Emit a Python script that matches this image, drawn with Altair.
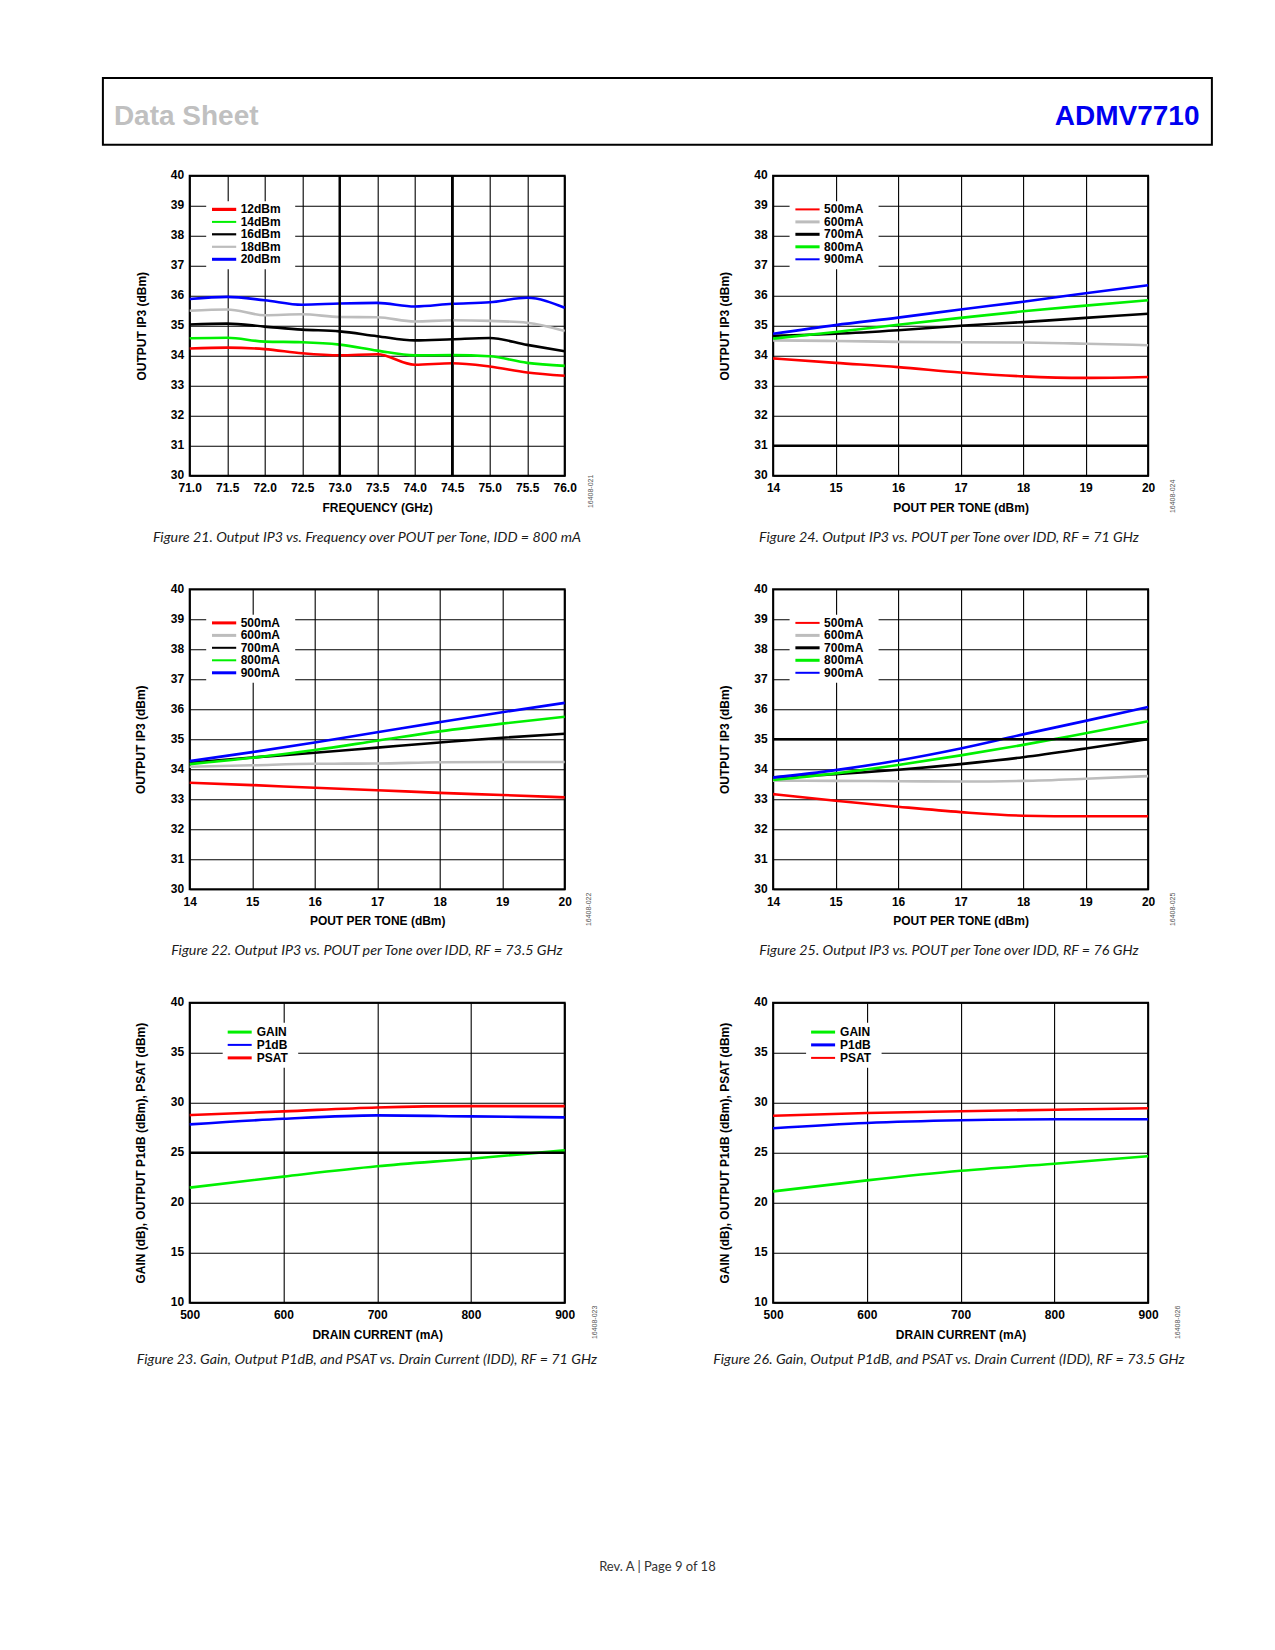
import altair as alt
import pandas as pd

# ---------------- data ----------------
# Figure 21: OIP3 vs frequency over POUT per tone
f21_x = [71.0, 71.5, 72.0, 72.5, 73.0, 73.5, 74.0, 74.5, 75.0, 75.5, 76.0]
f21_names = ["12dBm", "14dBm", "16dBm", "18dBm", "20dBm"]
f21_12 = [34.24, 34.27, 34.22, 34.08, 34.01, 34.05, 33.70, 33.75, 33.64, 33.44, 33.33]
f21_14 = [34.58, 34.60, 34.47, 34.45, 34.37, 34.17, 34.01, 34.02, 33.98, 33.76, 33.66]
f21_16 = [35.04, 35.07, 34.97, 34.87, 34.81, 34.65, 34.51, 34.55, 34.59, 34.36, 34.15]
f21_18 = [35.50, 35.54, 35.35, 35.38, 35.29, 35.28, 35.14, 35.18, 35.16, 35.10, 34.82]
f21_20 = [35.89, 35.96, 35.85, 35.70, 35.74, 35.76, 35.64, 35.73, 35.78, 35.93, 35.60]

# Figures 22, 24, 25: OIP3 vs POUT per tone over IDD
pout_x = [14, 15, 16, 17, 18, 19, 20]
idd_names = ["500mA", "600mA", "700mA", "800mA", "900mA"]
# RF = 71 GHz (Figure 24)
f24_500 = [33.91, 33.76, 33.62, 33.44, 33.31, 33.26, 33.29]
f24_600 = [34.51, 34.49, 34.46, 34.45, 34.44, 34.40, 34.35]
f24_700 = [34.66, 34.73, 34.85, 35.00, 35.12, 35.26, 35.40]
f24_800 = [34.57, 34.79, 35.03, 35.26, 35.48, 35.67, 35.85]
f24_900 = [34.73, 35.02, 35.27, 35.54, 35.80, 36.08, 36.35]
# RF = 73.5 GHz (Figure 22)
f22_500 = [33.55, 33.47, 33.38, 33.30, 33.21, 33.14, 33.06]
f22_600 = [34.08, 34.13, 34.18, 34.19, 34.23, 34.24, 34.24]
f22_700 = [34.22, 34.39, 34.55, 34.72, 34.89, 35.05, 35.18]
f22_800 = [34.17, 34.38, 34.64, 34.95, 35.26, 35.52, 35.75]
f22_900 = [34.27, 34.57, 34.89, 35.23, 35.57, 35.90, 36.21]
# RF = 76 GHz (Figure 25)
f25_500 = [33.17, 32.95, 32.75, 32.57, 32.45, 32.43, 32.43]
f25_600 = [33.62, 33.61, 33.60, 33.59, 33.61, 33.68, 33.77]
f25_700 = [33.73, 33.83, 33.98, 34.17, 34.40, 34.69, 35.00]
f25_800 = [33.64, 33.86, 34.14, 34.46, 34.81, 35.20, 35.60]
f25_900 = [33.72, 33.97, 34.29, 34.69, 35.16, 35.61, 36.07]

# Figures 23, 26: Gain, P1dB, PSAT vs drain current
idd_x = [500, 600, 700, 800, 900]
gain_names = ["GAIN", "P1dB", "PSAT"]
f23_gain = [21.51, 22.61, 23.64, 24.40, 25.23]
f23_p1db = [27.83, 28.39, 28.73, 28.63, 28.53]
f23_psat = [28.76, 29.13, 29.52, 29.66, 29.66]
f26_gain = [21.13, 22.23, 23.19, 23.89, 24.65]
f26_p1db = [27.44, 27.97, 28.24, 28.34, 28.34]
f26_psat = [28.70, 28.97, 29.14, 29.30, 29.44]

# tick labels
f21_ticks = [71.0, 71.5, 72.0, 72.5, 73.0, 73.5, 74.0, 74.5, 75.0, 75.5, 76.0]
pout_ticks = [14, 15, 16, 17, 18, 19, 20]
idd_ticks = [500, 600, 700, 800, 900]
ip3_ticks = [30, 31, 32, 33, 34, 35, 36, 37, 38, 39, 40]
gain_ticks = [10, 15, 20, 25, 30, 35, 40]

# ---------------- styling ----------------
RED, GREEN, BLACK, GRAY, BLUE = "#ff0000", "#00f000", "#000000", "#bdbdbd", "#0000ff"
AX_FONT = "Liberation Sans, Arial, Helvetica, sans-serif"
CAP_FONT = "Lato, Open Sans, sans-serif"
HEAD_FONT = "Liberation Sans, Arial, sans-serif"
W, H = 375, 300

dummy = pd.DataFrame({"d": [0]})


def txt(text, x, y, **kw):
    return alt.Chart(dummy).mark_text(text=text, **kw).encode(x=alt.value(x), y=alt.value(y))


def panel(x_vals, names, series, colors, x_dom, x_ticks, x_fmt, y_dom, y_ticks,
          x_title, y_title, y_title_x, leg, leg_widths, thick_x, thick_y,
          fig_id, id_xy, caption, cap_xy, extra=()):
    rows = []
    for nm, vals in zip(names, series):
        for xv, yv in zip(x_vals, vals):
            rows.append({"x": xv, "y": yv, "s": nm})
    df = pd.DataFrame(rows)
    xs = alt.Scale(domain=x_dom, nice=False, zero=False)
    ys = alt.Scale(domain=y_dom, nice=False, zero=False)
    xax = alt.Axis(values=x_ticks, format=x_fmt, title=x_title, grid=True,
                   labelPadding=7, labelFlush=False, labelOverlap=False,
                   titleX=W / 2, titleY=31.5, titleAlign="center", titleBaseline="middle")
    yax = alt.Axis(values=y_ticks, format="d", title=y_title, grid=True,
                   labelPadding=6, labelFlush=False, labelOverlap=False, labelOffset=-1,
                   titleX=y_title_x, titleY=H / 2, titleAngle=270,
                   titleAlign="center", titleBaseline="middle")
    lines = alt.Chart(df).mark_line(interpolate="monotone", strokeWidth=2.6).encode(
        x=alt.X("x:Q", scale=xs, axis=xax),
        y=alt.Y("y:Q", scale=ys, axis=yax),
        color=alt.Color("s:N", scale=alt.Scale(domain=names, range=colors), legend=None),
    )
    layers = [lines]
    # heavier grid lines seen in the original artwork
    if thick_x:
        layers.append(alt.Chart(pd.DataFrame({"x": thick_x})).mark_rule(color="black", strokeWidth=2.4)
                      .encode(x=alt.X("x:Q", scale=xs, axis=xax)))
    if thick_y:
        layers.append(alt.Chart(pd.DataFrame({"y": thick_y})).mark_rule(color="black", strokeWidth=2.4)
                      .encode(y=alt.Y("y:Q", scale=ys, axis=yax)))
    # legend
    sx0, sx1, tx, rows_y, box = leg
    layers.append(alt.Chart(dummy).mark_rect(fill="white").encode(
        x=alt.value(box[0]), x2=alt.value(box[2]), y=alt.value(box[1]), y2=alt.value(box[3])))
    for nm, col, lw, ry in zip(names, colors, leg_widths, rows_y):
        layers.append(alt.Chart(dummy).mark_rule(color=col, strokeWidth=lw).encode(
            x=alt.value(sx0), x2=alt.value(sx1), y=alt.value(ry)))
        layers.append(txt(nm, tx, ry, align="left", baseline="middle", font=AX_FONT,
                          fontSize=12, fontWeight="bold", color="black"))
    # figure id (rotated)
    layers.append(txt(fig_id, id_xy[0], id_xy[1], angle=270, align="center", baseline="middle",
                      font=AX_FONT, fontSize=7, color="#555555"))
    # caption
    layers.append(txt(caption, cap_xy[0], cap_xy[1], align="center", baseline="middle",
                      font=CAP_FONT, fontSize=14.3, fontStyle="italic", color="#1a1a1a"))
    layers.extend(extra)
    return alt.layer(*layers).properties(
        width=W, height=H, view=alt.ViewBackground(stroke="black", strokeWidth=2))


# page header / footer, placed relative to the first panel's plot area
HX0, HY0, HW = -86.8, -97.6, 1109
page_marks = [
    alt.Chart(dummy).mark_rect(fill="white", stroke="black", strokeWidth=2).encode(
        x=alt.value(HX0), x2=alt.value(HX0 + HW), y=alt.value(HY0), y2=alt.value(HY0 + 66.6)),
    txt("Data Sheet", HX0 + 11, HY0 + 46.6, align="left", baseline="alphabetic", font=HEAD_FONT,
        fontSize=28, fontWeight="bold", color="#c0c0c0"),
    txt("ADMV7710", HX0 + 1096.6, HY0 + 46.6, align="right", baseline="alphabetic", font=HEAD_FONT,
        fontSize=28, fontWeight="bold", color="#0000f0"),
    txt("Rev. A | Page 9 of 18", 467.7, 1391.7, align="center", baseline="middle",
        font=CAP_FONT, fontSize=13, color="#333333"),
]

IP3_LEG = (22.3, 46.5, 51, [33.7, 46.2, 58.6, 71.1, 83.6], (16.5, 25.5, 105.5, 93.5))
GAIN_LEG = (38, 62, 67, [29.4, 42.2, 55.2], (33, 20, 108.5, 65))
idd_colors = [RED, GRAY, BLACK, GREEN, BLUE]
gain_colors = [GREEN, BLUE, RED]

f21 = panel(f21_x, f21_names, [f21_12, f21_14, f21_16, f21_18, f21_20], [RED, GREEN, BLACK, GRAY, BLUE],
            [71, 76], f21_ticks, ".1f", [30, 40], ip3_ticks, "FREQUENCY (GHz)", "OUTPUT IP3 (dBm)", -48.5,
            IP3_LEG, [3.2, 2, 2.2, 2.2, 3], [73.0, 74.5], [], "16408-021", (401.7, 315.7),
            "Figure 21. Output IP3 vs. Frequency over POUT per Tone, IDD = 800 mA", (177.2, 362.7),
            extra=page_marks)
f24 = panel(pout_x, idd_names, [f24_500, f24_600, f24_700, f24_800, f24_900], idd_colors,
            [14, 20], pout_ticks, "d", [30, 40], ip3_ticks, "POUT PER TONE (dBm)", "OUTPUT IP3 (dBm)", -48.5,
            IP3_LEG, [2, 3, 3, 3, 2], [], [31], "16408-024", (400.3, 320.7),
            "Figure 24. Output IP3 vs. POUT per Tone over IDD, RF = 71 GHz", (175.8, 362.7))
f22 = panel(pout_x, idd_names, [f22_500, f22_600, f22_700, f22_800, f22_900], idd_colors,
            [14, 20], pout_ticks, "d", [30, 40], ip3_ticks, "POUT PER TONE (dBm)", "OUTPUT IP3 (dBm)", -49.5,
            IP3_LEG, [3, 3, 2, 2, 3], [], [], "16408-022", (399.7, 320.2),
            "Figure 22. Output IP3 vs. POUT per Tone over IDD, RF = 73.5 GHz", (177.2, 362.2))
f25 = panel(pout_x, idd_names, [f25_500, f25_600, f25_700, f25_800, f25_900], idd_colors,
            [14, 20], pout_ticks, "d", [30, 40], ip3_ticks, "POUT PER TONE (dBm)", "OUTPUT IP3 (dBm)", -48.5,
            IP3_LEG, [2, 3, 3, 3, 2], [], [35], "16408-025", (400.3, 320.2),
            "Figure 25. Output IP3 vs. POUT per Tone over IDD, RF = 76 GHz", (175.8, 362.2))
f23 = panel(idd_x, gain_names, [f23_gain, f23_p1db, f23_psat], gain_colors,
            [500, 900], idd_ticks, "d", [10, 40], gain_ticks, "DRAIN CURRENT (mA)",
            "GAIN (dB), OUTPUT P1dB (dBm), PSAT (dBm)", -49,
            GAIN_LEG, [3, 2, 3], [], [25], "16408-023", (405.7, 319.7),
            "Figure 23. Gain, Output P1dB, and PSAT vs. Drain Current (IDD), RF = 71 GHz", (177.2, 357))
f26 = panel(idd_x, gain_names, [f26_gain, f26_p1db, f26_psat], gain_colors,
            [500, 900], idd_ticks, "d", [10, 40], gain_ticks, "DRAIN CURRENT (mA)",
            "GAIN (dB), OUTPUT P1dB (dBm), PSAT (dBm)", -49,
            GAIN_LEG, [3, 3, 2], [], [], "16408-026", (405, 319.7),
            "Figure 26. Gain, Output P1dB, and PSAT vs. Drain Current (IDD), RF = 73.5 GHz", (175.8, 357))

chart = alt.concat(
    f21, f24, f22, f25, f23, f26,
    columns=2, spacing={"row": 113.5, "column": 208.4}, bounds="flush",
).resolve_scale(
    x="independent", y="independent", color="independent"
).resolve_axis(
    x="independent", y="independent"
).properties(
    padding={"left": 92.7, "top": 67.7, "right": 5, "bottom": 5}
).configure_view(strokeWidth=0).configure_axis(
    labelFont=AX_FONT, labelFontWeight="bold", labelFontSize=12, labelColor="black",
    titleFont=AX_FONT, titleFontWeight="bold", titleFontSize=12, titleColor="black",
    grid=True, gridColor="black", gridWidth=1.1, gridOpacity=1, ticks=False, domain=False,
)

chart.save("out.html", embed_options={"renderer": "svg", "actions": False})
